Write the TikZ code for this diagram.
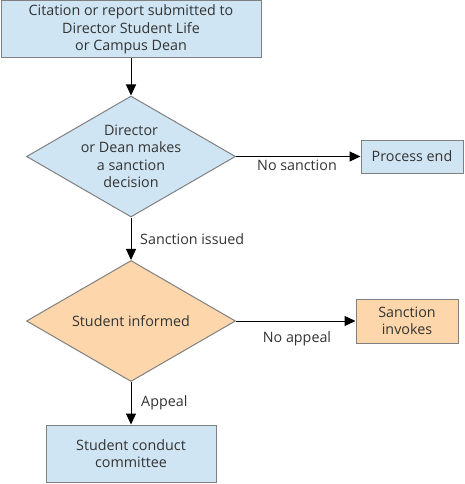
\documentclass[tikz,border=0pt]{standalone}
\usepackage{fontspec}
\setmainfont{Open Sans}
\usetikzlibrary{shapes.geometric,arrows.meta}
\definecolor{boxblue}{HTML}{CFE5F3}
\definecolor{boxorange}{HTML}{FDD6AB}
\definecolor{edgegray}{HTML}{808080}
\definecolor{txt}{HTML}{333333}
\tikzset{
  base/.style={font=\fontsize{14.3}{17.5}\selectfont, text=txt},
  rbox/.style={base, draw=edgegray, line width=1pt, inner sep=0pt, align=center},
  dia/.style={shape=diamond, draw=edgegray, line width=1pt, inner sep=0pt, minimum width=209pt, minimum height=121pt},
  lbl/.style={base, inner sep=0pt, align=center},
  conn/.style={draw=black, line width=1pt, -{Triangle[length=11pt,width=10pt]}},
}
\begin{document}
\begin{tikzpicture}[x=1pt,y=-1pt]
\useasboundingbox (0,0) rectangle (464,484);
\node[rbox, fill=boxblue, minimum width=260pt, minimum height=57pt] (cit) at (131,29.5) {Citation or report submitted to\\Director Student Life\\or Campus Dean};
\node[dia, fill=boxblue] (d1) at (131,156.5) {};
\node[lbl] (d1t) at (131,156.5) {Director\\or Dean makes\\a sanction\\decision};
\node[rbox, fill=boxblue, minimum width=102pt, minimum height=33pt] (pe) at (412,156.5) {Process end};
\node[dia, fill=boxorange] (d2) at (131,321) {};
\node[lbl] (d2t) at (131,321) {Student informed};
\node[rbox, fill=boxorange, minimum width=102pt, minimum height=44pt] (si) at (407,321) {Sanction\\invokes};
\node[rbox, fill=boxblue, minimum width=170pt, minimum height=57pt] (scc) at (131,453.5) {Student conduct\\committee};
\draw[conn] (cit) -- (d1);
\draw[conn] (d1) -- (pe);
\draw[conn] (d1) -- (d2);
\draw[conn] (d2) -- (si);
\draw[conn] (d2) -- (scc);
\node[lbl] (l1) at (297,165) {No sanction};
\node[lbl, anchor=west] (l2) at (140,239) {Sanction issued};
\node[lbl] (l3) at (297,339) {No appeal};
\node[lbl, anchor=west] (l4) at (141,403) {Appeal};
\end{tikzpicture}
\end{document}
